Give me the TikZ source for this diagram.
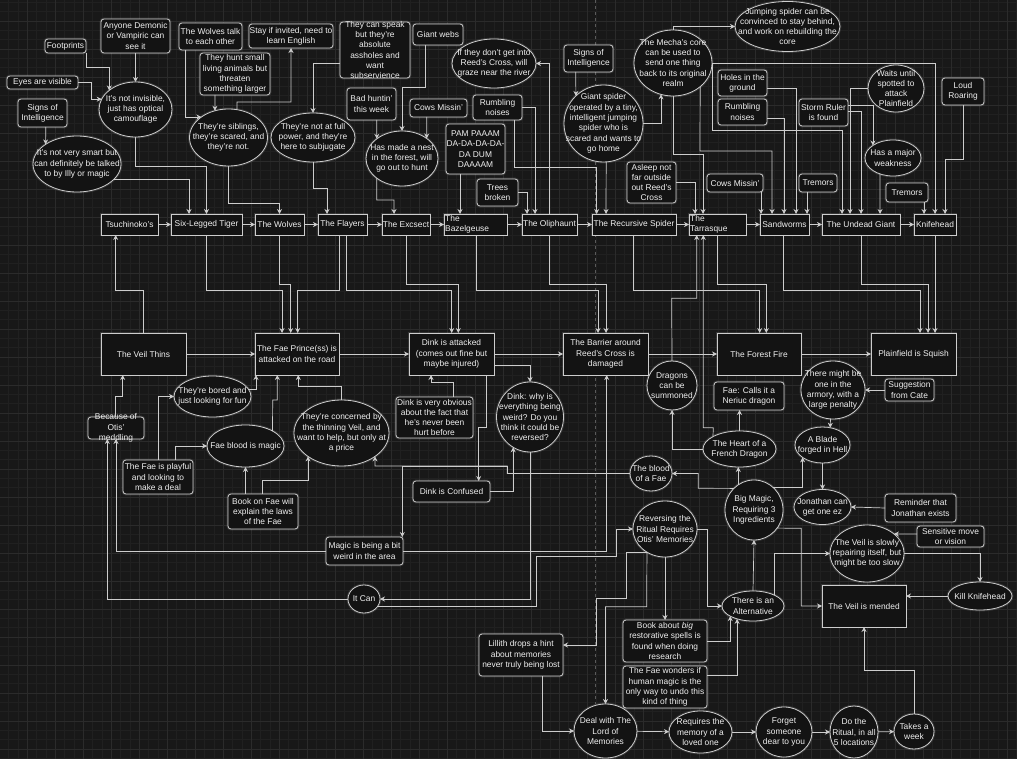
\documentclass[tikz,border=0pt]{standalone}
\usepackage{fontspec}
\setmainfont{Liberation Sans}
\usetikzlibrary{shapes.geometric,arrows.meta}
\definecolor{bgC}{HTML}{181818}
\definecolor{gridC}{HTML}{202020}
\definecolor{gridM}{HTML}{2B2B2B}
\definecolor{pageC}{HTML}{5A5A5A}
\definecolor{nodeC}{HTML}{131313}
\definecolor{lineC}{HTML}{CDCDCD}
\definecolor{txtC}{HTML}{F0F0F0}
\tikzset{
  base/.style={draw=lineC, fill=nodeC, line width=0.8pt, inner sep=0pt, outer sep=0pt,
    preaction={draw=white, draw opacity=0.13, line width=2.8pt}},
  box/.style={base, rectangle},
  rbox/.style={base, rectangle, rounded corners=3pt},
  oval/.style={base, ellipse},
  sz/.style 2 args={minimum width=#1pt, minimum height=#2pt},
  txt/.style={label={[anchor=center]center:{#1}}},
  ltxt/.style={label={[anchor=north west, align=left, inner sep=1pt]north west:{#1}}},
  every label/.style={font=\fontsize{8.4}{10.3}\selectfont, text=txtC, align=center, inner sep=0pt},
  arr/.style={draw=lineC, line width=0.7pt, -{Stealth[length=5pt,width=5pt]}},
}
\begin{document}
\begin{tikzpicture}[x=1pt,y=-1pt]
\useasboundingbox (0,0) rectangle (1017,759);
\fill[bgC] (0,0) rectangle (1017,759);
% grid
\foreach \k in {0,...,109} \draw[gridC, line width=0.4pt] ({-0.7+9.3333*\k},0) -- ++(0,759);
\foreach \k in {0,...,82} \draw[gridC, line width=0.4pt] (0,{-7+9.3333*\k}) -- ++(1017,0);
\foreach \k in {0,...,36} \draw[gridM, line width=0.5pt] ({-0.7+28*\k},0) -- ++(0,759);
\foreach \k in {0,...,27} \draw[gridM, line width=0.5pt] (0,{-7+28*\k}) -- ++(1017,0);
\draw[pageC, dashed, line width=0.5pt] (595.7,0) -- (595.7,704);

% clues above the first row
\node[rbox, sz={41}{14}, txt={Footprints}] (footprints) at (65.5,46) {};
\node[rbox, sz={69}{34}, txt={Anyone Demonic\\or Vampiric can\\see it}] (demonic) at (135.5,36) {};
\node[rbox, sz={71}{13}, txt={Eyes are visible}] (eyes) at (42.5,82.5) {};
\node[rbox, sz={49}{28}, txt={Signs of\\Intelligence}] (signsA) at (42.5,113) {};
\node[oval, sz={73}{55}, txt={It's not invisible,\\just has optical\\camouflage}] (camo) at (135.5,109.5) {};
\node[oval, sz={88}{56}, txt={It's not very smart but\\can definitely be talked\\to by Illy or magic}] (smart) at (77,164) {};
\node[rbox, sz={63}{27}, txt={The Wolves talk\\to each other}] (wolftalk) at (210.5,36.5) {};
\node[rbox, sz={70}{42}, txt={They hunt small\\living animals but\\threaten\\something larger}] (hunt) at (235,74) {};
\node[oval, sz={78}{57}, txt={They're siblings,\\they're scared, and\\they're not.}] (siblings) at (228.5,137.5) {};
\node[rbox, sz={84}{24}, txt={Stay if invited, need to\\learn English}] (stay) at (291,36) {};
\node[rbox, sz={70}{56}, txt={They can speak\\but they're\\absolute\\assholes and\\want\\subservience}] (speak) at (375,50) {};
\node[rbox, sz={50}{21}, txt={Giant webs}] (webs) at (438,34.5) {};
\node[oval, sz={84}{49}, txt={They're not at full\\power, and they're\\here to subjugate}] (power) at (313,137.5) {};
\node[rbox, sz={49}{32}, txt={Bad huntin'\\this week}] (badhunt) at (371.5,104) {};
\node[rbox, sz={57}{18}, txt={Cows Missin'}] (cowsA) at (438.5,108) {};
\node[oval, sz={72}{55}, txt={Has made a nest\\in the forest, will\\go out to hunt}] (nest) at (402,158.5) {};
\node[oval, sz={84}{49}, txt={If they don't get into\\Reed's Cross, will\\graze near the river}] (graze) at (494,63.5) {};
\node[rbox, sz={49}{25}, txt={Rumbling\\noises}] (rumbleA) at (497.5,107.5) {};
\node[rbox, sz={59}{50}, txt={PAM PAAAM\\DA-DA-DA-DA-\\DA DUM\\DAAAAM}] (pam) at (475.5,149) {};
\node[rbox, sz={41}{27}, txt={Trees\\broken}] (trees) at (497.5,192.5) {};
\node[rbox, sz={49}{27}, txt={Signs of\\Intelligence}] (signsB) at (588.5,58.5) {};
\node[oval, sz={79}{77}, txt={Giant spider\\operated by a tiny,\\intelligent jumping\\spider who is\\scared and wants to\\go home}] (spider) at (603.5,123.5) {};
\node[oval, sz={78}{66}, txt={The Mecha's core\\can be used to\\send one thing\\back to its original\\realm}] (mecha) at (673,63) {};
\node[oval, sz={105}{50}, txt={Jumping spider can be\\convinced to stay behind,\\and work on rebuilding the\\core}] (jumping) at (787.5,26.5) {};
\node[rbox, sz={49}{26}, txt={Holes in the\\ground}] (holes) at (742.5,83) {};
\node[rbox, sz={49}{26}, txt={Rumbling\\noises}] (rumbleB) at (742.5,112) {};
\node[rbox, sz={49}{41}, txt={Asleep not\\far outside\\out Reed's\\Cross}] (asleep) at (651.5,182.5) {};
\node[rbox, sz={56}{18}, txt={Cows Missin'}] (cowsB) at (735,183) {};
\node[rbox, sz={38}{18}, txt={Tremors}] (tremorsA) at (818,183) {};
\node[rbox, sz={49}{27}, txt={Storm Ruler\\is found}] (storm) at (823.5,112.5) {};
\node[oval, sz={56}{47}, txt={Waits until\\spotted to\\attack\\Plainfield}] (waits) at (896,88.5) {};
\node[oval, sz={56}{36}, txt={Has a major\\weakness}] (weak) at (893,158) {};
\node[rbox, sz={42}{27}, txt={Loud\\Roaring}] (roar) at (963,91.5) {};
\node[rbox, sz={42}{19}, txt={Tremors}] (tremorsB) at (907,192.5) {};

% first row: the monsters
\node[box, sz={57}{21}, txt={Tsuchinoko's}] (tsu) at (129.5,224.5) {};
\node[box, sz={71}{21}, txt={Six-Legged Tiger}] (tiger) at (206.5,224.5) {};
\node[box, sz={49}{21}, txt={The Wolves}] (wolves) at (279.5,224.5) {};
\node[box, sz={49}{21}, txt={The Flayers}] (flayers) at (342.5,224.5) {};
\node[box, sz={48}{21}, txt={The Excsect}] (excsect) at (406,224.5) {};
\node[box, sz={63}{21}, ltxt={The\\Bazelgeuse}] (bazel) at (475.5,224.5) {};
\node[box, sz={55}{21}, txt={The Oliphaunt}] (oliph) at (549.5,224.5) {};
\node[box, sz={84}{21}, txt={The Recursive Spider}] (recur) at (634,224.5) {};
\node[box, sz={57}{21}, ltxt={The\\Tarrasque}] (tarra) at (717.5,224.5) {};
\node[box, sz={49}{21}, txt={Sandworms}] (sandw) at (784.5,224.5) {};
\node[box, sz={78}{21}, txt={The Undead Giant}] (undead) at (861,224.5) {};
\node[box, sz={42}{21}, txt={Knifehead}] (knife) at (935,224.5) {};

% second row: the events
\node[box, sz={85}{42}, txt={The Veil Thins}] (thins) at (143.5,354) {};
\node[box, sz={84}{42}, txt={The Fae Prince(ss) is\\attacked on the road}] (prince) at (297,354) {};
\node[box, sz={85}{42}, txt={Dink is attacked\\(comes out fine but\\maybe injured)}] (dink) at (451.5,354) {};
\node[box, sz={85}{42}, txt={The Barrier around\\Reed's Cross is\\damaged}] (barrier) at (605.5,354) {};
\node[box, sz={84}{42}, txt={The Forest Fire}] (fire) at (759,354) {};
\node[box, sz={85}{42}, txt={Plainfield is Squish}] (squish) at (913.5,354) {};

% below the events
\node[oval, sz={77}{41}, txt={They're bored and\\just looking for fun}] (bored) at (212.5,396.5) {};
\node[rbox, sz={56}{22}, txt={Because of\\Otis'\\meddling}] (otis) at (116,428) {};
\node[oval, sz={77}{42}, txt={Fae blood is magic}] (blood) at (245.5,446) {};
\node[rbox, sz={70}{34}, txt={The Fae is playful\\and looking to\\make a deal}] (playful) at (158,477) {};
\node[rbox, sz={70}{35}, txt={Book on Fae will\\explain the laws\\of the Fae}] (bookfae) at (263,511.5) {};
\node[oval, sz={95}{66}, txt={They're concerned by\\the thinning Veil, and\\want to help, but only at\\a price}] (concern) at (341.5,433) {};
\node[rbox, sz={77}{41}, txt={Dink is very obvious\\about the fact that\\he's never been\\hurt before}] (obvious) at (434.5,417.5) {};
\node[rbox, sz={77}{21}, txt={Dink is Confused}] (confused) at (451.5,491.5) {};
\node[oval, sz={67}{70}, txt={Dink: why is\\everything being\\weird? Do you\\think it could be\\reversed?}] (why) at (530,417) {};
\node[oval, sz={50}{49}, txt={Dragons\\can be\\summoned}] (dragons) at (672,385.5) {};
\node[rbox, sz={70}{28}, txt={Fae: Calls it a\\Neriuc dragon}] (neriuc) at (749,396) {};
\node[oval, sz={64}{58}, txt={There might be\\one in the\\armory, with a\\large penalty}] (armory) at (833,390) {};
\node[rbox, sz={49}{22}, txt={Suggestion\\from Cate}] (cate) at (909.5,390) {};
\node[oval, sz={73}{36}, txt={The Heart of a\\French Dragon}] (heart) at (739.5,449) {};
\node[oval, sz={55}{36}, txt={A Blade\\forged in Hell}] (blade) at (822.5,445) {};
\node[oval, sz={42}{35}, txt={The blood\\of a Fae}] (faeblood) at (651,473.5) {};
\node[oval, sz={58}{60}, txt={Big Magic,\\Requiring 3\\Ingredients}] (bigmagic) at (754,510) {};
\node[oval, sz={57}{35}, txt={Jonathan can\\get one ez}] (jonathan) at (822.5,507) {};
\node[rbox, sz={71}{28}, txt={Reminder that\\Jonathan exists}] (reminder) at (920.5,508) {};
\node[rbox, sz={67}{21}, txt={Sensitive move\\or vision}] (sensitive) at (950.5,536.5) {};
\node[oval, sz={74}{57}, txt={The Veil is slowly\\repairing itself, but\\might be too slow}] (slowly) at (867,553.5) {};
\node[box, sz={84}{42}, txt={The Veil is mended}] (mended) at (864,606) {};
\node[oval, sz={64}{28}, txt={Kill Knifehead}] (kill) at (980,596) {};
\node[oval, sz={62}{30}, txt={There is an\\Alternative}] (alt) at (753,606) {};
\node[oval, sz={64}{56}, txt={Reversing the\\Ritual Requires\\Otis' Memories}] (reversing) at (665,529) {};
\node[rbox, sz={77}{28}, txt={Magic is being a bit\\weird in the area}] (weird) at (364.5,551) {};
\node[oval, sz={32}{28}, txt={It Can}] (itcan) at (364,599) {};
\node[rbox, sz={84}{42}, txt={Book about \textit{big}\\restorative spells is\\found when doing\\research}] (bookbig) at (665,641) {};
\node[rbox, sz={84}{42}, txt={The Fae wonders if\\human magic is the\\only way to undo this\\kind of thing}] (wonders) at (665,687) {};
\node[rbox, sz={84}{42}, txt={Lillith drops a hint\\about memories\\never truly being lost}] (lillith) at (521,655) {};
\node[oval, sz={63}{54}, txt={Deal with The\\Lord of\\Memories}] (deal) at (605.5,731) {};
\node[oval, sz={63}{42}, txt={Requires the\\memory of a\\loved one}] (memory) at (700.5,732) {};
\node[oval, sz={56}{50}, txt={Forget\\someone\\dear to you}] (forget) at (784,732) {};
\node[oval, sz={48}{52}, txt={Do the\\Ritual, in all\\5 locations}] (ritual) at (854,732) {};
\node[oval, sz={40}{35}, txt={Takes a\\week}] (week) at (914,731.5) {};

% connectors, top
\draw[arr] (footprints.south east) -- (86,67) -| (camo.144);
\draw[arr] (demonic) -- (camo);
\draw[arr] (eyes.east) -- (91,82.5) |- (camo.163);
\draw[arr] (signsA.south -| 45.7,0) -- (smart.148);
\draw[arr] (camo.south) -- (135.5,166) -| (tiger.north);
\draw[arr] (smart.338) -| (tiger.north -| 189,0);
\draw[arr] (wolftalk.south -| 185,0) |- (siblings.143);
\draw[arr] (hunt.south -| 215,0) -- (siblings.117);
\draw[arr] (siblings.73) -- (237,102) -| (stay.south);
\draw[arr] (siblings.south) -- (228.5,203) -| (wolves.north);
\draw[arr] (speak.west |- 0,63) -| (power.north);
\draw[arr] (power.south) -- (313,188) -| (flayers.north -| 327,0);
\draw[arr] (webs.south -| 425.7,0) -- (425.7,87) -| (nest.north);
\draw[arr] (badhunt.south -| 376.7,0) -- (nest.142);
\draw[arr] (cowsA.south -| 426.7,0) -- (nest.39);
\draw[arr] (nest.218) -- (376.7,200) -| (excsect.north -| 394,0);
\draw[arr] (pam.south -| 460,0) -- (bazel.north -| 460,0);
\draw[arr] (rumbleA.east) -| (oliph.north -| 535,0);
\draw[arr] (trees.east) -| (oliph.north -| 527,0);
\draw[arr] (oliph.north) |- (graze.east);
\draw[arr] (signsB.south -| 575.7,0) -- (spider.135);
\draw[arr] (spider.274) -- (recur.north -| 606,0);
\draw[arr] (spider.east) -| (mecha.249);
\draw[arr] (mecha.north) |- (jumping.west);
\draw[arr] (rumbleA.south -| 514,0) -- (514,167) -| (recur.north -| 596.7,0);
\draw[arr] (mecha.south) -- (673,154) -| (tarra.north -| 703,0);
\draw[arr] (asleep.east) -| (tarra.north -| 695,0);
\draw[arr] (mecha.east) -| (knife.north);
\draw[arr] (mecha.east) -- (712,130) -| (undead.north -| 842,0);
\draw[arr] (mecha.319) -- (700,151) -| (sandw.north -| 772,0);
\draw[arr] (holes.east |- 0,88) -| (sandw.north -| 796,0);
\draw[arr] (rumbleB.east |- 0,118) -| (sandw.north -| 784,0);
\draw[arr] (cowsB.south -| 761,0) -- (sandw.north -| 761,0);
\draw[arr] (tremorsA.south -| 807,0) -- (sandw.north -| 807,0);
\draw[arr] (storm.east |- 0,105.7) -| (weak.148);
\draw[arr] (storm.east |- 0,111.7) -| (undead.north);
\draw[arr] (waits.west) -| (undead.north -| 850,0);
\draw[arr] (weak.231) -- (undead.north -| 880,0);
\draw[arr] (tremorsB.south -| 924,0) -- (knife.north -| 924,0);
\draw[arr] (roar.south) -- (963,159) -| (knife.north -| 945,0);
\foreach \a/\b in {tsu/tiger, tiger/wolves, wolves/flayers, flayers/excsect, excsect/bazel, bazel/oliph,
  oliph/recur, recur/tarra, tarra/sandw, sandw/undead, undead/knife}
  \draw[arr] (\a) -- (\b);

% connectors, between the rows
\draw[arr] (thins.north) -- (143.5,290.7) -| (tsu.south -| 115.7,0);
\draw[arr] (tiger.south -| 206.7,0) -- (206.7,290.7) -| (prince.north -| 282,0);
\draw[arr] (wolves.south) -- (279.5,284) -| (prince.north -| 290.7,0);
\draw[arr] (flayers.south -| 339.3,0) -- (339.3,290.7) -| (prince.north -| 297.7,0);
\draw[arr] (flayers.south -| 346.7,0) -- (346.7,290.7) -| (dink.north -| 451.7,0);
\draw[arr] (excsect.south) -- (406,284) -| (dink.north -| 458.3,0);
\draw[arr] (bazel.south -| 476.7,0) -- (476.7,290.7) -| (barrier.north -| 598,0);
\draw[arr] (oliph.south) -- (549.5,284) -| (barrier.north -| 606,0);
\draw[arr] (recur.south -| 633,0) -- (633,290.7) -| (fire.north -| 759.7,0);
\draw[arr] (tarra.south) -- (717.5,284) -| (fire.north -| 766.3,0);
\draw[arr] (sandw.south -| 783.7,0) -- (783.7,290.7) -| (squish.north -| 920,0);
\draw[arr] (undead.south) -- (861,284) -| (squish.north -| 928,0);
\draw[arr] (knife.south) -- (squish.north -| 935,0);
\foreach \a/\b in {thins/prince, prince/dink, dink/barrier, barrier/fire, fire/squish}
  \draw[arr] (\a) -- (\b);

% connectors, lower part
\draw[arr] (otis.north -| 115.7,0) -- (115.7,396) -| (thins.south -| 122.7,0);
\draw[arr] (bored.12) -| (prince.south -| 256,0);
\draw[arr] (playful.north -| 158.3,0) |- (bored.west);
\draw[arr] (playful.north -| 175.7,0) |- (blood.west);
\draw[arr] (blood.29) -- (272.7,400) -| (prince.south -| 277.3,0);
\draw[arr] (bookfae.north -| 245.5,0) -- (blood.south);
\draw[arr] (bookfae.north -| 262.7,0) -- (262.7,480.7) -| (concern.215);
\draw[arr] (concern.north) -- (341.5,386) -| (prince.south -| 298.3,0);
\draw[arr] (obvious.north -| 453.3,0) -- (453.3,382.3) -| (dink.south -| 431,0);
\draw[arr] (dink.south -| 486.7,0) -- (486.7,427.7) -| (confused.north -| 478.7,0);
\draw[arr] (dink.east |- 0,365) -| (why.north);
\draw[arr] (confused.east) -| (why.241);
\draw[arr] (why.south) |- (itcan.east);
\draw[arr] (itcan.west) -| (otis.south -| 107.3,0);
\draw[arr] (itcan.333) -| (536,556.7) -| (616.7,529) -- (reversing.west);
\draw[arr] (weird.west) -| (otis.south -| 116,0);
\draw[arr] (weird.east) -| (barrier.south -| 606.7,0);
\draw[arr] (faeblood.west) -- (507.3,473.5) |- (375,466) -- (concern.325);
\draw[arr] (faeblood.west) -- (507.3,473.5) |- (402.3,466) -- (weird.north -| 402.3,0);
\draw[arr] (dragons.north) -- (671.7,298.3) -| (tarra.south -| 696.7,0);
\draw[arr] (heart.west) -| (dragons.south);
\draw[arr] (heart.north) -- (neriuc.south -| heart.north);
\draw[arr] (heart.155) -- (713.3,427.7) -| (tarra.south -| 703.3,0);
\draw[arr] (bigmagic.122) -- (heart.south -| bigmagic.122);
\draw[arr] (bigmagic.133) -- (698.3,488.3) |- (faeblood.east);
\draw[arr] (bigmagic.49) -| (blade.212);
\draw[arr] (bigmagic.322) -- (801.3,528.3) |- (mended.west);
\draw[arr] (armory.265) -- (blade.66);
\draw[arr] (cate.west) -- (armory.east);
\draw[arr] (blade.south) -- (jonathan.north);
\draw[arr] (reminder.west) -- (jonathan.east);
\draw[arr] (sensitive.west |- 0,534) -- (slowly.36);
\draw[arr] (slowly.east) -| (kill.north);
\draw[arr] (kill.west) -- (mended.east |- kill.west);
\draw[arr] (alt.27) |- (slowly.west);
\draw[arr] (alt.north) -- (bigmagic.south);
\draw[arr] (reversing.east) -- (707.3,529) |- (alt.west);
\draw[arr] (reversing.south) -- (bookbig.north);
\draw[arr] (reversing.232) -| (626.7,598.3) -| (596.7,645) -- (lillith.east |- 0,645);
\draw[arr] (reversing.232) -- (646.7,606.7) -| (deal.north);
\draw[arr] (lillith.south -| 542.7,0) |- (deal.west);
\draw[arr] (bookbig.east) -| (alt.204);
\draw[arr] (wonders.east |- 0,675.7) -| (alt.219);
\foreach \a/\b in {deal/memory, memory/forget, forget/ritual, ritual/week}
  \draw[arr] (\a) -- (\b);
\draw[arr] (week.north) -- (914,670.7) -| (mended.south);
\end{tikzpicture}
\end{document}
